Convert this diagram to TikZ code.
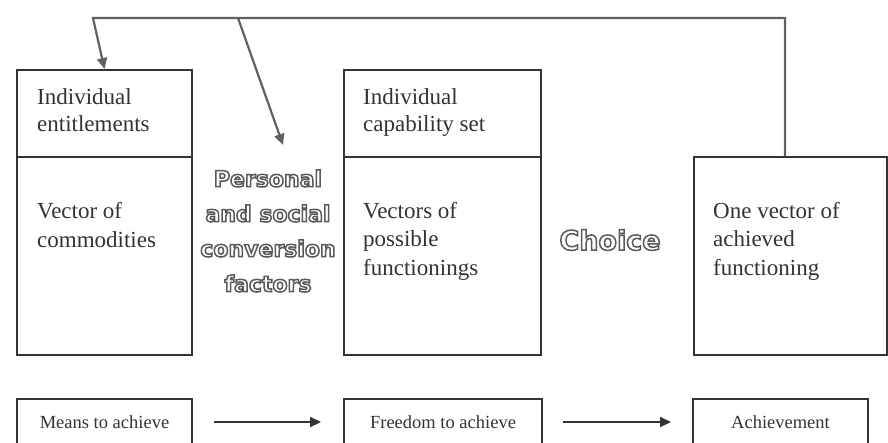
\documentclass[tikz,border=0pt]{standalone}
\usepackage{fontspec}
\setmainfont{Liberation Serif}
\newfontfamily\heavysans{DejaVu Sans}
\usetikzlibrary{arrows.meta}

\definecolor{ink}{gray}{0.2}
\definecolor{wire}{gray}{0.38}

\tikzset{
  box/.style={draw=ink, line width=2pt, inner sep=0pt},
  head/.style={font=\fontsize{23}{27}\selectfont, text=ink, align=left,
               inner sep=0pt, anchor=base west},
  body/.style={font=\fontsize{23}{28.5}\selectfont, text=ink, align=left,
               inner sep=0pt, anchor=base west},
  tag/.style={font=\fontsize{18.5}{20}\selectfont, text=ink, inner sep=0pt},
  hollow/.style={font=\heavysans\bfseries\fontsize{22}{35}\selectfont,
                 align=center, inner sep=0pt},
  link/.style={draw=wire, line width=2.2pt},
  tip/.style={-{Triangle[length=11pt,width=10pt]}},
  flow/.style={draw=ink, line width=2pt, -{Triangle[length=11pt,width=10pt]}}
}

% white letters with a grey outline (fill-then-stroke rendering mode)
\newcommand{\hollowtext}[1]{%
  \special{pdf:literal direct 2 Tr 1.5 w 0.35 G 1 g}#1%
  \special{pdf:literal direct 0 Tr 0 g 0 G}}

\begin{document}
\begin{tikzpicture}[x=1pt,y=-1pt]
  \clip (0,0) rectangle (888,442);
  \fill[white] (0,0) rectangle (888,442);

  % upper row of boxes
  \node[box, minimum width=175pt, minimum height=87pt]  (ent) at (104.5,113.5) {};
  \node[box, minimum width=175pt, minimum height=198pt] (com) at (104.5,256) {};
  \node[box, minimum width=197pt, minimum height=87pt]  (cap) at (442.5,113.5) {};
  \node[box, minimum width=197pt, minimum height=198pt] (fun) at (442.5,256) {};
  \node[box, minimum width=193pt, minimum height=198pt] (ach) at (790.5,256) {};

  % box texts (anchored on the baseline of their last line)
  \node[head] (entT) at (37,131)  {Individual\\entitlements};
  \node[body] (comT) at (37,247)  {Vector of\\commodities};
  \node[head] (capT) at (363,131) {Individual\\capability set};
  \node[body] (funT) at (363,275) {Vectors of\\possible\\functionings};
  \node[body] (achT) at (713,275) {One vector of\\achieved\\functioning};

  % feedback loop along the top
  \coordinate (tl) at (93,18);
  \coordinate (tm) at (238,18);
  \coordinate (tr) at (785,18);
  \coordinate (cv) at (283,145);
  \draw[link, tip] (ach.north -| tr) -- (tr) -- (tl) -- (ent.north);
  \draw[link, tip] (tm) -- (cv);

  % lower row
  \node[box, minimum width=175pt, minimum height=46pt] (means) at (104.5,422) {};
  \node[box, minimum width=198pt, minimum height=46pt] (free)  at (443,422) {};
  \node[box, minimum width=175pt, minimum height=46pt] (achv)  at (780.5,422) {};
  \node[tag] (meansT) at (104.5,422) {Means to achieve};
  \node[tag] (freeT)  at (443,422)   {Freedom to achieve};
  \node[tag] (achvT)  at (780.5,422) {Achievement};

  \draw[flow] ([xshift=21pt]means.east) -- ([xshift=-22pt]free.west);
  \draw[flow] ([xshift=20pt]free.east)  -- ([xshift=-21pt]achv.west);

  % hollow lettering between the boxes
  \node[hollow] (conv) at (268,231)
    {\hollowtext{Personal}\\\hollowtext{and social}\\\hollowtext{conversion}\\\hollowtext{factors}};
  \node[hollow, font=\heavysans\bfseries\fontsize{27}{35}\selectfont] (choice) at (610,240)
    {\hollowtext{Choice}};
\end{tikzpicture}
\end{document}
